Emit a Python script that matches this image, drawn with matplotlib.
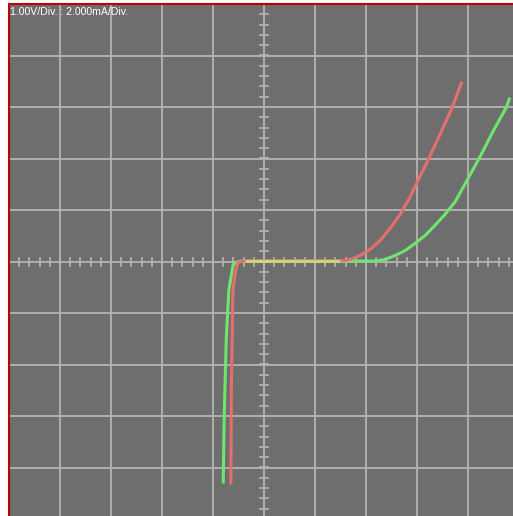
import numpy as np
import matplotlib.pyplot as plt

# scope scale
VOLTS_PER_DIV = 1.0
MA_PER_DIV = 2.0

# trace A (red): voltage in V, current in mA
red_v = [-0.65, -0.64, -0.61, -0.56, -0.51, -0.44, -0.37, 0.20, 1.00, 1.49,
         1.69, 1.88, 2.08, 2.28, 2.47, 2.67, 2.86, 3.02, 3.26, 3.45, 3.69, 3.88]
red_i = [-8.66, -5.00, -1.13, -0.40, -0.04, 0.00, 0.02, 0.02, 0.02, 0.02,
         0.08, 0.23, 0.47, 0.82, 1.28, 1.83, 2.49, 3.15, 4.12, 4.93, 5.98, 6.99]

# trace B (green)
green_v = [-0.80, -0.78, -0.74, -0.69, -0.61, -0.55, -0.45, 0.20, 1.00, 1.49,
           2.18, 2.37, 2.57, 2.77, 2.96, 3.16, 3.35, 3.55, 3.75, 3.98, 4.24, 4.49, 4.75, 4.82]
green_i = [-8.62, -6.00, -3.00, -1.13, -0.16, -0.04, 0.02, 0.02, 0.02, 0.02,
           0.02, 0.08, 0.23, 0.43, 0.70, 1.01, 1.40, 1.83, 2.33, 3.15, 4.08, 5.05, 5.98, 6.37]

# section where both traces coincide
common_v = [-0.37, 1.49]
common_i = [0.02, 0.02]

label = "1.00V/Div. : 2.000mA/Div."

bg = "#6e6e6e"
grid_col = "#b4b4b4"

fig = plt.figure(figsize=(5.13, 5.16), dpi=100)
fig.patch.set_facecolor("white")
ax = fig.add_axes([9 / 513, -3 / 516, 510 / 513, 515 / 516])
ax.set_facecolor(bg)
ax.set_xlim(-5 * VOLTS_PER_DIV, 5 * VOLTS_PER_DIV)
ax.set_ylim(-5 * MA_PER_DIV, 5 * MA_PER_DIV)

# graticule
for k in range(-4, 5):
    ax.axvline(k * VOLTS_PER_DIV, color=grid_col, lw=1.3, zorder=1)
    ax.axhline(k * MA_PER_DIV, color=grid_col, lw=1.3, zorder=1)

# small ticks on the centre lines
sub_x = np.arange(-5, 5.01, 0.2) * VOLTS_PER_DIV
sub_y = np.arange(-5, 5.01, 0.2) * MA_PER_DIV
ax.plot(sub_x, np.zeros_like(sub_x), ls="none", marker="|", ms=7, mew=1.2, color=grid_col, zorder=1)
ax.plot(np.zeros_like(sub_y), sub_y, ls="none", marker="_", ms=7, mew=1.2, color=grid_col, zorder=1)

ax.plot(green_v, green_i, color="#6ee66e", lw=2.2, zorder=3, solid_capstyle="butt")
ax.plot(red_v, red_i, color="#e86e6e", lw=2.2, zorder=4, solid_capstyle="butt")
ax.plot(common_v, common_i, color="#d2d278", lw=2.2, zorder=5, solid_capstyle="butt")

ax.set_xticks([])
ax.set_yticks([])
for side in ["right", "bottom"]:
    ax.spines[side].set_visible(False)
for side in ["top", "left"]:
    ax.spines[side].set_color("#c00000")
    ax.spines[side].set_linewidth(1.5)

fig.text(10 / 513, 1 - 7 / 516, label, color="white", fontsize=7.6,
         family="Liberation Sans", va="top", ha="left")

fig.savefig("out.png", dpi=100)
